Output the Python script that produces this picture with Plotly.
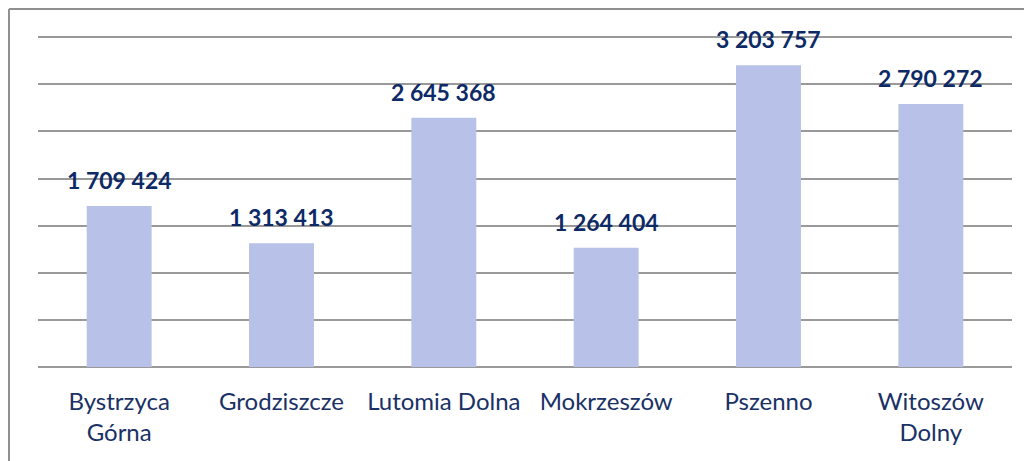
import plotly.graph_objects as go

categories = ["Bystrzyca<br>Górna", "Grodziszcze", "Lutomia Dolna", "Mokrzeszów", "Pszenno", "Witoszów<br>Dolny"]
values = [1709424, 1313413, 2645368, 1264404, 3203757, 2790272]
labels = [f"{v:,}".replace(",", " ") for v in values]

fig = go.Figure(go.Bar(
    x=categories, y=values,
    marker=dict(color="#B8C2E8", line=dict(width=0)),
    width=0.4,
))

for c, v, t in zip(categories, values, labels):
    fig.add_annotation(x=c, y=v, text=f"<b>{t}</b>", showarrow=False,
                       yanchor="middle", yshift=26,
                       font=dict(size=23, color="#0D2A66", family="Lato"))

# ramka wykresu (lewa i górna krawędź)
fig.add_shape(type="line", xref="paper", yref="paper", x0=-0.0298, x1=-0.0298, y0=-0.35, y1=1.072,
              line=dict(color="#8F8F8F", width=2))
fig.add_shape(type="line", xref="paper", yref="paper", x0=-0.0298, x1=1.03, y0=1.072, y1=1.072,
              line=dict(color="#8F8F8F", width=2))

# strona ma 8px marginesu, więc wykres przesunięty o 8px w lewo i w górę
fig.update_layout(
    width=1032, height=461,
    margin=dict(l=30, r=28, t=25, b=102),
    paper_bgcolor="white", plot_bgcolor="white",
    showlegend=False,
    font=dict(family="Lato", size=24, color="#1A3166"),
)
fig.update_xaxes(tickfont=dict(size=24, color="#1A3166"), ticks="", ticklabelstandoff=18,
                 showline=False, showgrid=False, automargin=False)
fig.update_yaxes(range=[0, 3545000], dtick=500000, showticklabels=False,
                 showgrid=True, gridcolor="#999999", gridwidth=2,
                 zeroline=True, zerolinecolor="#999999", zerolinewidth=2, showline=False)

fig.write_html("out.html")
